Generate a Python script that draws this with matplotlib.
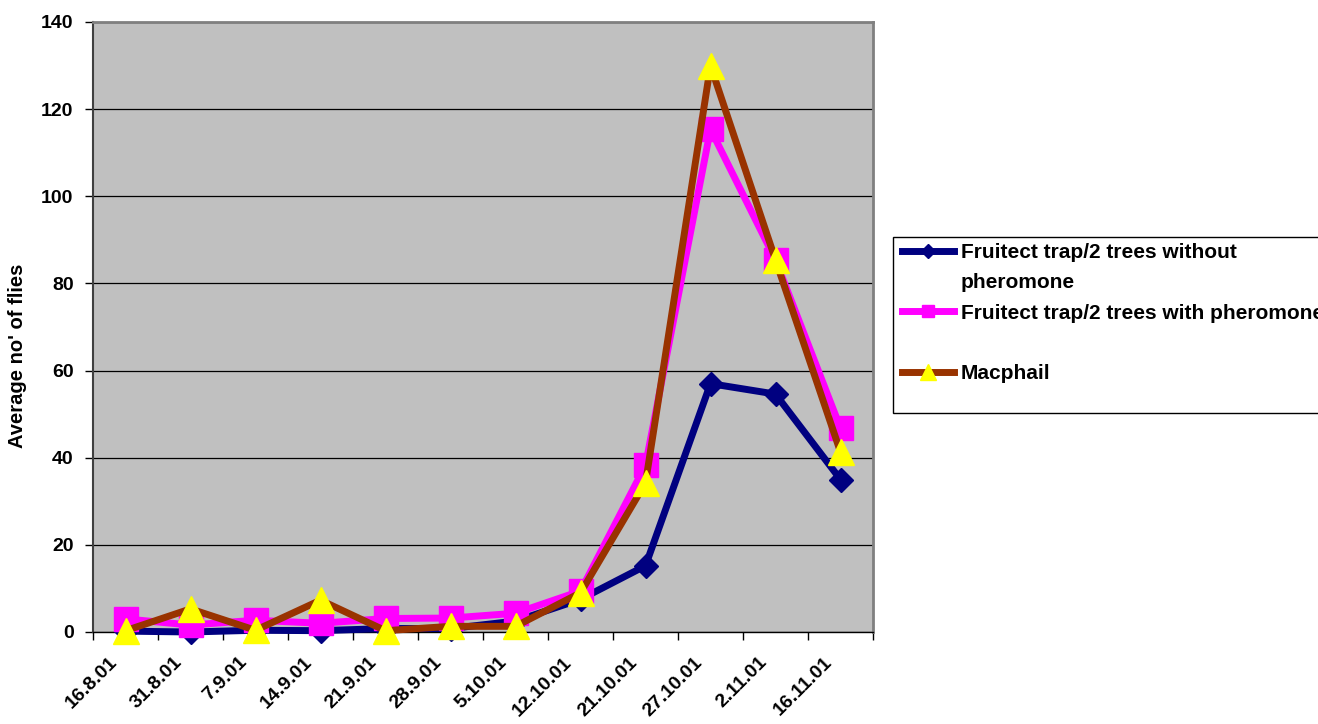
import matplotlib
matplotlib.use("Agg")
import matplotlib.pyplot as plt
import matplotlib.transforms as mtransforms
from matplotlib.lines import Line2D
from matplotlib.patches import Rectangle

plt.rcParams['font.family'] = ['Liberation Sans', 'DejaVu Sans']
plt.rcParams['font.weight'] = 'bold'

dates = ['16.8.01', '31.8.01', '7.9.01', '14.9.01', '21.9.01', '28.9.01',
         '5.10.01', '12.10.01', '21.10.01', '27.10.01', '2.11.01', '16.11.01']
no_pheromone = [0.2, 0, 0.4, 0.3, 0.8, 0.8, 2.5, 7.5, 15.2, 57, 54.6, 35]
with_pheromone = [3, 1.6, 2.7, 2, 3.1, 3.2, 4.3, 9.4, 38.3, 115.4, 85.4, 46.8]
macphail = [0.3, 5.3, 0.4, 7.3, 0.3, 1.3, 1.3, 9, 34.2, 130, 85.4, 41.3]

labels = ['Fruitect trap/2 trees without', 'Fruitect trap/2 trees with pheromone', 'Macphail']

W, H = 1318, 724
fig = plt.figure(figsize=(W / 100, H / 100), dpi=100)
ax = fig.add_axes([93 / W, 1 - 632 / H, 780 / W, 610 / H])
ax.set_facecolor('#C0C0C0')

x = list(range(len(dates)))
ax.plot(x, no_pheromone, color='#000080', lw=5, marker='D', ms=12.5,
        mec='#000080', mfc='#000080', clip_on=False, zorder=3)
ax.plot(x, with_pheromone, color='#FF00FF', lw=5, marker='s', ms=17.5,
        mec='#FF00FF', mfc='#FF00FF', clip_on=False, zorder=4)
ax.plot(x, macphail, color='#993300', lw=5, marker='^', ms=19,
        mec='#FFFF00', mfc='#FFFF00', clip_on=False, zorder=5)

ax.set_xlim(-0.5, len(dates) - 0.5)
ax.set_ylim(0, 140)
ax.set_yticks(range(0, 141, 20))
ax.yaxis.grid(True, color='black', lw=0.9)
ax.set_axisbelow(True)

# category boundaries get the tick marks, the centres get the labels
ax.set_xticks([i - 0.5 for i in range(len(dates) + 1)])
ax.set_xticklabels([])
ax.set_xticks(x, minor=True)
ax.set_xticklabels(dates, minor=True, rotation=45, ha='right', va='center',
                   rotation_mode='anchor', fontsize=14, fontweight='bold')
ax.tick_params(axis='x', which='minor', length=0, pad=20)
ax.tick_params(axis='x', which='major', length=6, width=1, color='black')
ax.tick_params(axis='y', length=6, width=1, color='black', pad=8, labelsize=14)
shift = mtransforms.ScaledTranslation(-11 / 100, 0, fig.dpi_scale_trans)
for lab in ax.get_xticklabels(minor=True):
    lab.set_transform(lab.get_transform() + shift)

for side in ['top', 'right']:
    ax.spines[side].set_color('#808080')
    ax.spines[side].set_linewidth(2)
ax.spines['left'].set_color('#404040')
ax.spines['left'].set_linewidth(1.5)
ax.spines['bottom'].set_color('black')
ax.spines['bottom'].set_linewidth(1)

ax.set_ylabel("Average no' of flies", fontsize=14.5, fontweight='bold')
ax.yaxis.set_label_coords(-0.085, 0.452)

# legend frame drawn separately so it can run off the right edge
fig.patches.append(Rectangle((893 / W, 1 - 413 / H), 500 / W, 176 / H,
                             transform=fig.transFigure, facecolor='white',
                             edgecolor='black', lw=1, zorder=0))
handles = [
    Line2D([], [], color='#000080', lw=5, marker='D', ms=7, mfc='#000080', mec='#000080'),
    Line2D([], [], color='#FF00FF', lw=5, marker='s', ms=8, mfc='#FF00FF', mec='#FF00FF'),
    Line2D([], [], color='#993300', lw=5, marker='^', ms=11, mfc='#FFFF00', mec='#FFFF00'),
]
leg = fig.legend(handles, labels, loc='upper left', bbox_to_anchor=(902 / W, 1 - 243 / H),
                 frameon=False, prop={'size': 15, 'weight': 'bold'},
                 handlelength=2.5, handletextpad=0.33, labelspacing=2.0,
                 borderpad=0, borderaxespad=0)

fig.canvas.draw()
bb = leg.get_texts()[0].get_window_extent()
fig.text(bb.x0 / W, (bb.y0 - 26) / H, 'pheromone', fontsize=15, fontweight='bold')

fig.savefig('out.png', dpi=100)
